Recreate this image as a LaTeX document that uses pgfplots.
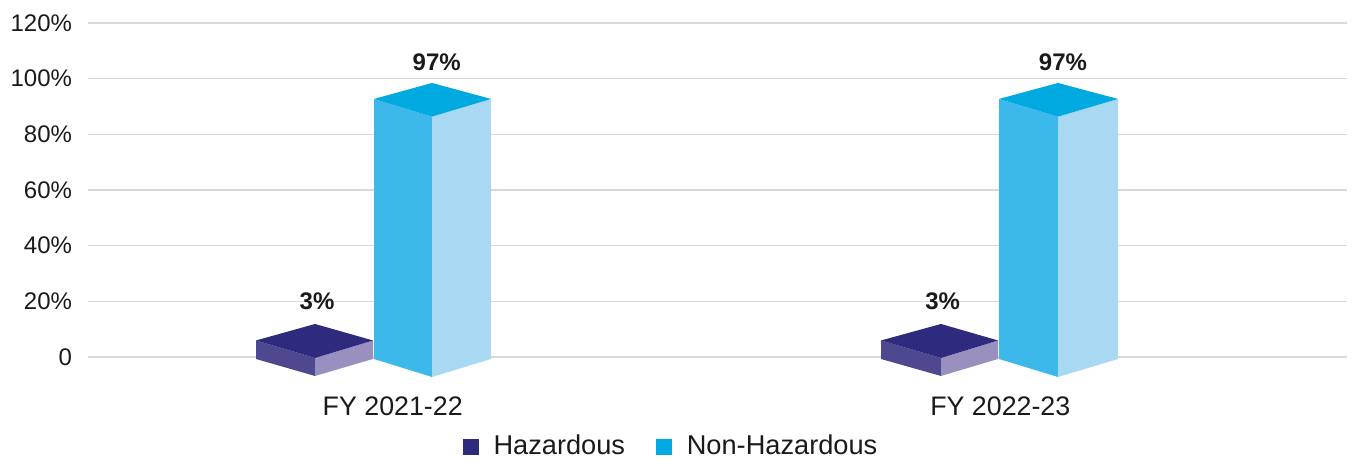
\documentclass[border=0pt]{standalone}
\usepackage{pgfplots}
\pgfplotsset{compat=1.18}
\usepackage{fontspec}
\setmainfont{Liberation Sans}
\definecolor{hazTop}{HTML}{2E2A7E}
\definecolor{hazLeft}{HTML}{4E4890}
\definecolor{hazRight}{HTML}{9A90C0}
\definecolor{nhTop}{HTML}{00A9E0}
\definecolor{nhLeft}{HTML}{3DB8EA}
\definecolor{nhRight}{HTML}{A8D8F2}
\definecolor{gridc}{HTML}{D9D9D9}
\definecolor{txt}{HTML}{1A1A1A}
\begin{document}
\begin{tikzpicture}
\useasboundingbox (0,0) rectangle (677pt,231.5pt);
\begin{axis}[
  at={(44pt,39.1pt)}, anchor=south west,
  scale only axis, width=629.5pt, height=180.9pt,
  xmin=88, xmax=1347, ymin=-10, ymax=120,
  clip=false,
  axis line style={draw=none},
  major tick length=0pt,
  ytick={0,20,40,60,80,100,120},
  yticklabels={0,20\%,40\%,60\%,80\%,100\%,120\%},
  ymajorgrids,
  grid style={color=gridc, line width=0.75pt},
  xtick={392.7,1000.3},
  xticklabels={FY 2021-22,FY 2022-23},
  /pgf/number format/assume math mode=true,
  yticklabel style={anchor=east, inner sep=0pt, xshift=-7.8pt, font=\fontsize{12}{14}\selectfont, text=txt},
  xticklabel style={anchor=north, inner sep=0pt, yshift=-5.6pt, font=\fontsize{13.4}{15}\selectfont, text=txt},
  legend columns=2,
  legend image code/.code={\fill[#1] (0pt,-3.75pt) rectangle (7.5pt,3.75pt); \path (15pt,0pt);},
  legend style={at={(0.4623,-0.1705)}, anchor=center, draw=none, fill=none,
    font=\fontsize{13.6}{15}\selectfont, text=txt,
    nodes={inner sep=0pt, anchor=west},
    /tikz/every even column/.append style={column sep=15.5pt}},
]
\addlegendimage{hazTop}
\addlegendentry{Hazardous}
\addlegendimage{nhTop}
\addlegendentry{Non-Hazardous}

% ---- FY 2021-22 : Hazardous (3%)
\addplot[forget plot, fill=hazLeft, draw=none] coordinates {(256,5.93) (315,-0.36) (315,-6.83) (256,-0.72)} -- cycle;
\addplot[forget plot, fill=hazRight, draw=none] coordinates {(315,-0.36) (373,5.93) (373,-0.72) (315,-6.83)} -- cycle;
\addplot[forget plot, fill=hazTop, draw=none] coordinates {(256,5.93) (315,11.86) (373,5.93) (315,-0.36)} -- cycle;
% ---- FY 2021-22 : Non-Hazardous (97%)
\addplot[forget plot, fill=nhLeft, draw=none] coordinates {(374,92.71) (432,86.35) (432,-7.19) (374,-0.72)} -- cycle;
\addplot[forget plot, fill=nhRight, draw=none] coordinates {(432,86.35) (491,92.71) (491,-0.72) (432,-7.19)} -- cycle;
\addplot[forget plot, fill=nhTop, draw=none] coordinates {(374,92.71) (432,98.46) (491,92.71) (432,86.35)} -- cycle;

% ---- FY 2022-23 : Hazardous (3%)
\addplot[forget plot, fill=hazLeft, draw=none] coordinates {(881,5.93) (941,-0.36) (941,-6.83) (881,-0.72)} -- cycle;
\addplot[forget plot, fill=hazRight, draw=none] coordinates {(941,-0.36) (998,5.93) (998,-0.72) (941,-6.83)} -- cycle;
\addplot[forget plot, fill=hazTop, draw=none] coordinates {(881,5.93) (941,11.86) (998,5.93) (941,-0.36)} -- cycle;
% ---- FY 2022-23 : Non-Hazardous (97%)
\addplot[forget plot, fill=nhLeft, draw=none] coordinates {(999,92.71) (1058,86.35) (1058,-7.19) (999,-0.72)} -- cycle;
\addplot[forget plot, fill=nhRight, draw=none] coordinates {(1058,86.35) (1118,92.71) (1118,-0.72) (1058,-7.19)} -- cycle;
\addplot[forget plot, fill=nhTop, draw=none] coordinates {(999,92.71) (1058,98.46) (1118,92.71) (1058,86.35)} -- cycle;

% value labels
\node[font=\fontsize{12}{14}\selectfont\bfseries, text=txt] at (axis cs:317,19.94) {3\%};
\node[font=\fontsize{12}{14}\selectfont\bfseries, text=txt] at (axis cs:436.7,106.0) {97\%};
\node[font=\fontsize{12}{14}\selectfont\bfseries, text=txt] at (axis cs:942.7,19.94) {3\%};
\node[font=\fontsize{12}{14}\selectfont\bfseries, text=txt] at (axis cs:1063,106.0) {97\%};
\end{axis}
\end{tikzpicture}
\end{document}
